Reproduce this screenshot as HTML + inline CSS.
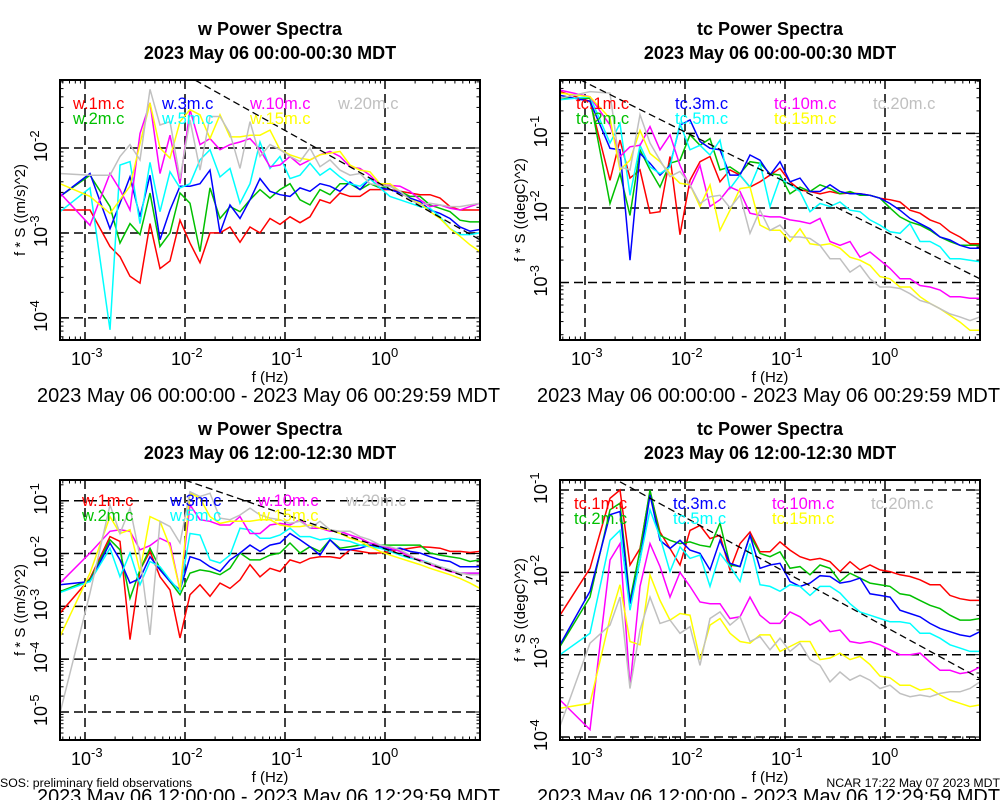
<!DOCTYPE html>
<html><head><meta charset="utf-8"><style>
html,body{margin:0;padding:0;background:#fff;width:1000px;height:800px;overflow:hidden}
svg{display:block;font-family:"Liberation Sans",sans-serif}
</style></head><body>
<svg id="chart" width="1000" height="800" viewBox="0 0 1000 800"></svg>
<script>
// log10 frequency (Hz) for every spectral point
const freqLog = [-3.25,-2.95,-2.75,-2.65,-2.55,-2.45,-2.35,-2.25,-2.15,-2.05,-1.95,-1.85,-1.75,-1.65,-1.55,-1.45,-1.35,-1.25,-1.15,-1.05,-0.95,-0.85,-0.75,-0.65,-0.55,-0.45,-0.35,-0.25,-0.15,-0.05,0.05,0.15,0.25,0.35,0.45,0.55,0.65,0.75,0.85,0.95];
const seriesNames = ["1m","2m","3m","5m","10m","15m","20m"];
// Panel 1: w 00:00-00:30 (log10 f*S)
const w1Red = [-2.73,-2.73,-3.16,-3.28,-3.51,-3.59,-2.89,-3.42,-3.33,-2.85,-3.12,-3.35,-3.0,-3.0,-2.93,-3.11,-2.93,-3.0,-2.83,-2.9,-2.81,-2.88,-2.81,-2.61,-2.65,-2.53,-2.57,-2.57,-2.49,-2.49,-2.49,-2.51,-2.53,-2.55,-2.55,-2.59,-2.69,-2.73,-2.73,-2.73];
const w1Green = [-2.57,-2.32,-2.69,-3.12,-2.89,-3.02,-2.53,-3.16,-3.0,-2.53,-2.65,-3.22,-2.47,-2.83,-2.69,-2.75,-2.61,-2.49,-2.59,-2.49,-2.42,-2.61,-2.67,-2.49,-2.55,-2.42,-2.42,-2.49,-2.42,-2.47,-2.45,-2.51,-2.57,-2.57,-2.67,-2.71,-2.75,-2.85,-2.87,-2.87];
const w1Blue = [-2.57,-2.30,-2.95,-2.65,-2.34,-2.81,-2.32,-3.08,-2.73,-2.45,-2.45,-2.42,-2.26,-3.0,-2.67,-2.83,-2.61,-2.36,-2.51,-2.55,-2.57,-2.47,-2.51,-2.42,-2.45,-2.51,-2.40,-2.49,-2.36,-2.47,-2.49,-2.53,-2.59,-2.63,-2.73,-2.77,-2.83,-2.93,-2.98,-2.96];
const w1Cyan = [-2.75,-2.47,-4.14,-2.2,-2.16,-2.89,-2.17,-2.75,-2.28,-2.47,-2.42,-2.14,-2.02,-2.34,-2.24,-2.65,-2.42,-1.93,-2.24,-2.1,-2.36,-2.32,-2.18,-2.32,-2.24,-2.34,-2.42,-2.45,-2.36,-2.47,-2.57,-2.61,-2.65,-2.69,-2.71,-2.81,-2.95,-3.02,-3.02,-3.0];
const w1Magenta = [-2.53,-2.91,-2.30,-2.49,-2.73,-1.83,-1.47,-2.30,-1.85,-2.42,-1.55,-1.96,-1.89,-2.02,-1.96,-1.93,-1.89,-2.02,-2.22,-2.2,-2.1,-2.2,-2.14,-2.08,-2.04,-2.1,-2.22,-2.24,-2.32,-2.44,-2.44,-2.45,-2.51,-2.61,-2.69,-2.67,-2.71,-2.73,-2.69,-2.65];
const w1Yellow = [-2.42,-2.57,-2.77,-2.61,-2.45,-1.95,-1.47,-2.0,-2.12,-1.69,-1.55,-1.61,-1.89,-1.61,-1.87,-1.87,-1.85,-1.85,-1.79,-2.02,-2.08,-2.12,-2.14,-2.08,-2.06,-2.04,-2.2,-2.26,-2.28,-2.42,-2.42,-2.51,-2.61,-2.65,-2.75,-2.83,-2.95,-3.04,-3.14,-3.22];
const w1Gray = [-2.30,-2.32,-2.32,-2.1,-1.96,-2.14,-1.31,-1.73,-1.69,-2.36,-1.67,-2.26,-1.63,-1.63,-1.83,-2.24,-1.69,-2.1,-1.96,-2.02,-2.1,-2.16,-2.0,-2.22,-2.14,-2.26,-2.32,-2.3,-2.42,-2.44,-2.45,-2.51,-2.61,-2.67,-2.65,-2.67,-2.69,-2.69,-2.67,-2.65];
// Panel 2: tc 00:00-00:30
const t1Red = [-0.44,-0.57,-1.63,-1.09,-1.6,-1.49,-2.07,-2.05,-1.31,-2.36,-1.63,-1.38,-1.31,-1.65,-1.49,-1.56,-1.72,-1.65,-1.56,-1.47,-1.65,-1.76,-1.78,-1.81,-1.78,-1.81,-1.8,-1.81,-1.83,-1.87,-1.89,-1.92,-2.03,-2.07,-2.16,-2.21,-2.32,-2.39,-2.48,-2.48];
const t1Green = [-0.53,-0.53,-1.94,-1.54,-2.1,-1.22,-1.49,-1.72,-1.4,-1.36,-1.02,-1.16,-1.07,-1.49,-1.45,-1.54,-1.38,-1.4,-1.54,-1.56,-1.81,-1.72,-1.78,-1.69,-1.74,-1.81,-1.78,-1.83,-1.83,-1.87,-2.0,-2.12,-2.19,-2.23,-2.3,-2.39,-2.45,-2.5,-2.5,-2.5];
const t1Blue = [-0.49,-0.57,-1.2,-1.22,-2.7,-1.27,-1.4,-1.56,-1.43,-0.89,-0.82,-1.11,-1.2,-1.22,-1.56,-1.56,-1.29,-1.36,-1.56,-1.38,-1.65,-1.6,-1.78,-1.78,-1.69,-1.78,-1.81,-1.81,-1.83,-1.87,-1.94,-2.03,-2.14,-2.21,-2.28,-2.39,-2.43,-2.5,-2.54,-2.54];
const t1Cyan = [-0.55,-0.51,-1.13,-0.87,-1.83,-1.16,-1.45,-1.54,-1.45,-0.87,-1.22,-1.16,-1.29,-1.09,-1.74,-1.56,-1.72,-1.4,-1.98,-1.6,-1.69,-1.78,-2.05,-1.94,-1.98,-1.92,-2.03,-2.05,-2.16,-2.23,-2.32,-2.34,-2.21,-2.45,-2.45,-2.52,-2.68,-2.68,-2.70,-2.72];
const t1Magenta = [-0.42,-0.51,-0.89,-1.31,-1.18,-1.16,-0.91,-1.22,-1.02,-1.43,-1.72,-1.43,-1.98,-1.89,-1.72,-1.78,-2.07,-2.1,-2.12,-2.12,-2.16,-2.18,-2.21,-2.14,-2.45,-2.5,-2.45,-2.66,-2.59,-2.7,-2.81,-2.95,-2.95,-3.04,-3.06,-3.1,-3.19,-3.19,-3.21,-3.21];
const t1Yellow = [-0.46,-0.51,-0.8,-1.49,-1.36,-0.96,-1.27,-1.38,-1.54,-1.67,-1.69,-1.98,-1.69,-2.3,-2.03,-1.74,-1.72,-2.23,-2.3,-2.3,-2.45,-2.28,-2.48,-2.5,-2.48,-2.54,-2.66,-2.7,-2.77,-2.92,-2.95,-3.06,-3.06,-3.19,-3.28,-3.35,-3.44,-3.53,-3.64,-3.64];
const t1Gray = [-0.53,-0.44,-0.46,-1.45,-1.49,-0.75,-1.13,-1.36,-1.58,-1.51,-1.69,-1.94,-1.85,-1.83,-2.0,-1.83,-2.34,-2.03,-2.3,-2.23,-2.39,-2.39,-2.41,-2.5,-2.68,-2.68,-2.86,-2.77,-2.95,-3.06,-3.06,-3.08,-3.15,-3.24,-3.28,-3.35,-3.42,-3.46,-3.51,-3.46];
// Panel 3: w 12:00-12:30
const w2Red = [-3.13,-2.47,-1.68,-1.77,-3.63,-2.31,-1.96,-2.44,-2.69,-3.6,-2.78,-2.59,-2.81,-2.56,-2.66,-2.5,-2.21,-2.44,-2.28,-2.34,-2.12,-2.18,-2.09,-2.06,-2.06,-2.09,-1.93,-1.96,-1.99,-1.99,-1.96,-1.93,-1.9,-1.87,-1.88,-1.9,-1.96,-1.96,-1.98,-1.96];
const w2Green = [-2.72,-2.5,-1.74,-1.93,-2.85,-2.31,-1.9,-2.28,-2.53,-2.78,-2.37,-2.31,-2.34,-2.4,-2.28,-1.99,-2.12,-2.12,-2.03,-1.99,-1.8,-1.99,-1.87,-1.96,-1.74,-1.9,-1.87,-1.84,-1.84,-1.84,-1.84,-1.84,-1.84,-1.84,-1.99,-2.03,-2.06,-2.09,-2.15,-2.12];
const w2Blue = [-2.59,-2.53,-1.8,-2.12,-2.56,-2.47,-2.06,-2.31,-2.53,-2.69,-2.06,-2.12,-2.25,-2.34,-2.12,-1.99,-1.84,-1.96,-1.84,-1.8,-1.62,-1.74,-1.87,-2.03,-1.74,-1.93,-1.93,-1.9,-1.84,-1.87,-1.93,-1.9,-1.96,-1.99,-2.06,-2.12,-2.15,-2.25,-2.25,-2.25];
const w2Cyan = [-2.74,-2.53,-1.9,-2.44,-1.99,-2.59,-2.15,-2.25,-2.5,-2.72,-1.62,-1.65,-2.12,-2.18,-2.03,-1.52,-1.55,-1.71,-1.71,-1.65,-1.52,-1.68,-1.68,-1.74,-1.71,-1.74,-1.77,-1.84,-1.87,-1.9,-1.96,-2.03,-2.09,-2.12,-2.18,-2.25,-2.31,-2.37,-2.37,-2.37];
const w2Magenta = [-2.56,-1.99,-1.58,-1.55,-1.58,-1.93,-1.85,-1.71,-1.8,-2.69,-1.08,-1.36,-1.39,-1.46,-1.46,-1.3,-1.62,-1.62,-1.46,-1.43,-1.46,-1.36,-1.52,-1.52,-1.58,-1.58,-1.65,-1.71,-1.8,-1.84,-1.9,-1.96,-2.06,-2.12,-2.21,-2.28,-2.34,-2.37,-2.37,-2.37];
const w2Yellow = [-3.57,-2.37,-1.3,-1.62,-1.55,-2.34,-1.3,-1.39,-1.87,-2.69,-0.86,-0.95,-1.3,-1.43,-1.39,-1.39,-1.39,-1.36,-1.36,-1.46,-1.49,-1.49,-1.46,-1.52,-1.55,-1.62,-1.71,-1.77,-1.87,-1.96,-2.03,-2.09,-2.15,-2.21,-2.28,-2.34,-2.4,-2.47,-2.56,-2.66];
const w2Gray = [-5.02,-2.75,-1.08,-1.62,-1.14,-2.06,-3.54,-1.39,-1.49,-1.8,-0.83,-0.92,-0.86,-1.33,-1.36,-1.27,-1.14,-1.27,-1.33,-1.36,-1.43,-1.39,-1.52,-1.39,-1.55,-1.58,-1.58,-1.68,-1.74,-1.84,-1.87,-1.93,-2.03,-2.15,-2.18,-2.25,-2.31,-2.37,-2.4,-2.4];
// Panel 4: tc 12:00-12:30
const t2Red = [-2.52,-1.95,-1.1,-1.0,-1.91,-1.71,-1.02,-1.51,-1.71,-1.91,-1.49,-1.43,-1.59,-1.55,-1.97,-1.65,-1.51,-1.75,-1.75,-1.63,-1.73,-1.81,-1.85,-1.83,-1.87,-1.99,-1.87,-1.97,-1.91,-1.97,-1.99,-2.03,-2.05,-2.09,-2.15,-2.15,-2.28,-2.32,-2.34,-2.34];
const t2Green = [-2.9,-2.3,-1.24,-1.16,-2.34,-1.73,-1.0,-1.55,-1.61,-1.65,-1.63,-1.67,-1.69,-1.4,-1.91,-1.93,-1.55,-1.77,-1.81,-1.75,-1.95,-1.93,-2.03,-1.91,-1.95,-2.11,-2.01,-2.07,-2.13,-2.15,-2.17,-2.26,-2.28,-2.34,-2.40,-2.44,-2.52,-2.58,-2.58,-2.56];
const t2Blue = [-2.88,-2.23,-1.3,-1.26,-2.38,-1.85,-1.06,-1.61,-1.71,-1.61,-1.73,-1.77,-1.97,-1.61,-1.89,-1.93,-1.55,-1.95,-1.91,-1.89,-2.11,-2.17,-2.13,-2.04,-2.05,-2.13,-2.11,-2.07,-2.26,-2.28,-2.3,-2.46,-2.5,-2.54,-2.62,-2.68,-2.72,-2.76,-2.78,-2.72];
const t2Cyan = [-3.0,-2.74,-1.61,-1.49,-2.46,-1.85,-1.24,-1.57,-1.99,-1.69,-1.83,-1.79,-2.17,-1.77,-1.93,-2.11,-1.65,-2.15,-2.17,-2.23,-2.15,-2.17,-2.28,-2.17,-2.17,-2.25,-2.38,-2.48,-2.52,-2.56,-2.6,-2.6,-2.62,-2.74,-2.74,-2.8,-2.88,-2.92,-2.96,-2.96];
const t2Magenta = [-3.55,-3.91,-1.85,-1.65,-3.39,-2.17,-1.65,-1.93,-2.3,-2.0,-2.17,-2.36,-2.38,-2.38,-2.56,-2.54,-2.3,-2.52,-2.62,-2.62,-2.48,-2.54,-2.64,-2.58,-2.72,-2.7,-2.84,-2.86,-2.84,-2.88,-2.94,-3.0,-3.0,-2.98,-3.09,-3.19,-3.19,-3.23,-3.21,-3.15];
const t2Yellow = [-3.65,-3.59,-2.56,-2.15,-2.84,-2.88,-2.03,-2.34,-2.58,-2.5,-2.52,-3.06,-2.64,-2.56,-2.74,-2.84,-2.86,-2.76,-2.76,-2.96,-2.9,-2.84,-2.84,-3.06,-3.04,-2.98,-3.06,-3.02,-3.12,-3.26,-3.28,-3.37,-3.37,-3.43,-3.41,-3.49,-3.55,-3.59,-3.63,-3.61];
const t2Gray = [-3.87,-2.86,-2.64,-2.3,-3.41,-2.7,-2.3,-2.62,-2.58,-2.74,-2.66,-3.13,-2.56,-2.48,-2.64,-2.54,-2.84,-2.78,-2.94,-2.8,-2.96,-2.86,-3.06,-3.13,-3.33,-3.21,-3.31,-3.25,-3.31,-3.41,-3.37,-3.47,-3.51,-3.49,-3.51,-3.47,-3.45,-3.45,-3.41,-3.33];
// reference slope lines [x0,x1] and [y0,y1] in log10 units
const refW1X = [-1.9,0.95], refW1Y = [-1.2,-3.08];
const refT1X = [-3.05,0.95], refT1Y = [-0.28,-2.95];
const refW2X = [-2.0,0.95], refW2Y = [-0.61,-2.53];
const refT2X = [-2.65,0.95], refT2Y = [-0.9,-3.29];

const colors = ["#ff0000","#00c000","#0000ff","#00ffff","#ff00ff","#ffff00","#c0c0c0"];
const NS = "http://www.w3.org/2000/svg";
const svg = document.getElementById("chart");
function mk(tag, attrs, parent){const e=document.createElementNS(NS,tag);for(const k in attrs)e.setAttribute(k,attrs[k]);(parent||svg).appendChild(e);return e;}

const panels = [
 {id:"w-early",var:"w",title:"w Power Spectra",sub:"2023 May 06 00:00-00:30 MDT",range:"2023 May 06 00:00:00 - 2023 May 06 00:29:59 MDT",ylab:"f * S ((m/s)^2)",x0:60,y0:80,yMin:-4.26,yMax:-1.2,yDec:[-4,-3,-2],data:[w1Red,w1Green,w1Blue,w1Cyan,w1Magenta,w1Yellow,w1Gray],refX:refW1X,refY:refW1Y,legY:109,legX:[73,162,250,338],cx:270,fy:382,dy:402,tky:365},
 {id:"tc-early",var:"tc",title:"tc Power Spectra",sub:"2023 May 06 00:00-00:30 MDT",range:"2023 May 06 00:00:00 - 2023 May 06 00:29:59 MDT",ylab:"f * S ((degC)^2)",x0:560,y0:80,yMin:-3.77,yMax:-0.285,yDec:[-3,-2,-1],data:[t1Red,t1Green,t1Blue,t1Cyan,t1Magenta,t1Yellow,t1Gray],refX:refT1X,refY:refT1Y,legY:109,legX:[576,675,774,873],cx:770,fy:382,dy:402,tky:365},
 {id:"w-noon",var:"w",title:"w Power Spectra",sub:"2023 May 06 12:00-12:30 MDT",range:"2023 May 06 12:00:00 - 2023 May 06 12:29:59 MDT",ylab:"f * S ((m/s)^2)",x0:60,y0:480,yMin:-5.53,yMax:-0.608,yDec:[-5,-4,-3,-2,-1],data:[w2Red,w2Green,w2Blue,w2Cyan,w2Magenta,w2Yellow,w2Gray],refX:refW2X,refY:refW2Y,legY:506,legX:[82,170,258,346],cx:270,fy:782,dy:803,tky:765},
 {id:"tc-noon",var:"tc",title:"tc Power Spectra",sub:"2023 May 06 12:00-12:30 MDT",range:"2023 May 06 12:00:00 - 2023 May 06 12:29:59 MDT",ylab:"f * S ((degC)^2)",x0:560,y0:480,yMin:-4.036,yMax:-0.878,yDec:[-4,-3,-2,-1],data:[t2Red,t2Green,t2Blue,t2Cyan,t2Magenta,t2Yellow,t2Gray],refX:refT2X,refY:refT2Y,legY:509,legX:[574,673,772,871],cx:770,fy:782,dy:803,tky:765}
];
const W=420,H=260,XMIN=-3.25,XMAX=0.95;
const legOrder=[[0,2,4,6],[1,3,5]];

panels.forEach(p=>{
 const g=mk("g",{});
 
 
 const sx=v=>p.x0+(v-XMIN)/(XMAX-XMIN)*W;
 const sy=v=>p.y0+(p.yMax-v)/(p.yMax-p.yMin)*H;
 const ty=p.y0-45;
 let t=mk("text",{x:p.cx,y:ty,"text-anchor":"middle","font-size":"18","font-weight":"bold"},g);t.textContent=p.title;
 
 
 t=mk("text",{x:p.cx,y:ty+24,"text-anchor":"middle","font-size":"18","font-weight":"bold"},g);t.textContent=p.sub;
 
 
 const clipId="clip-"+p.id;
 const cp=mk("clipPath",{id:clipId},g);mk("rect",{x:p.x0,y:p.y0,width:W,height:H},cp);
 [-3,-2,-1,0].forEach(d=>{const l=mk("line",{x1:sx(d),x2:sx(d),y1:p.y0,y2:p.y0+H,stroke:"#000","stroke-width":"1.5","stroke-dasharray":"9,5"},g);
  
  });
 p.yDec.forEach(d=>{const l=mk("line",{x1:p.x0,x2:p.x0+W,y1:sy(d),y2:sy(d),stroke:"#000","stroke-width":"1.5","stroke-dasharray":"9,5"},g);
  
  });
 for(let d=-4;d<=0;d++)for(let m=1;m<10;m++){const v=d+Math.log10(m);if(v<XMIN||v>XMAX)continue;const len=m==1?7:3.5;
  mk("line",{x1:sx(v),x2:sx(v),y1:p.y0+H,y2:p.y0+H-len,stroke:"#000","stroke-width":"1"},g);
  mk("line",{x1:sx(v),x2:sx(v),y1:p.y0,y2:p.y0+len,stroke:"#000","stroke-width":"1"},g);}
 for(let d=-6;d<=0;d++)for(let m=1;m<10;m++){const v=d+Math.log10(m);if(v<p.yMin||v>p.yMax)continue;const len=m==1?7:3.5;
  mk("line",{x1:p.x0,x2:p.x0+len,y1:sy(v),y2:sy(v),stroke:"#000","stroke-width":"1"},g);
  mk("line",{x1:p.x0+W,x2:p.x0+W-len,y1:sy(v),y2:sy(v),stroke:"#000","stroke-width":"1"},g);}
 [-3,-2,-1,0].forEach(d=>{const tx=mk("text",{x:sx(d)-14,y:p.tky,"font-size":"18"},g);tx.textContent="10";
  
  
  const s=mk("tspan",{dy:"-8","font-size":"13"},tx);s.textContent=String(d);});
 p.yDec.forEach(d=>{const yy=sy(d);const tx=mk("text",{x:0,y:0,"font-size":"18",transform:`translate(${p.x0-13},${yy+14}) rotate(-90)`},g);tx.textContent="10";
  
  
  const s=mk("tspan",{dy:"-8","font-size":"13"},tx);s.textContent=String(d);});
 t=mk("text",{x:0,y:0,"font-size":"15","text-anchor":"middle",transform:`translate(${p.x0-35},${p.y0+H/2}) rotate(-90)`},g);t.textContent=p.ylab;
 
 
 t=mk("text",{x:p.x0+W/2,y:p.fy,"text-anchor":"middle","font-size":"15"},g);t.textContent="f (Hz)";
 
 
 t=mk("text",{x:p.x0-23,y:p.dy,"font-size":"20","textLength":"463","lengthAdjust":"spacingAndGlyphs"},g);t.textContent=p.range;
 
 
 const sg=mk("g",{"clip-path":`url(#${clipId})`},g);
 p.data.forEach((arr,si)=>{
  const pts=arr.map((v,i)=>sx(freqLog[i]).toFixed(1)+","+sy(v).toFixed(1)).join(" ");
  const pl=mk("polyline",{points:pts,fill:"none",stroke:colors[si],"stroke-width":"1.5","stroke-linejoin":"miter"},sg);
  
  
 });
 const rl=mk("line",{x1:sx(p.refX[0]),y1:sy(p.refY[0]),x2:sx(p.refX[1]),y2:sy(p.refY[1]),stroke:"#000","stroke-width":"1.3","stroke-dasharray":"7,4"},sg);
 
 
 legOrder.forEach((row,ri)=>row.forEach((si,ci)=>{
  const lt=mk("text",{x:p.legX[ci],y:p.legY+ri*15,"font-size":"16.5",fill:colors[si]},g);
  lt.textContent=p.var+"."+seriesNames[si]+".c";
  
  
 }));
 const fr=mk("rect",{x:p.x0,y:p.y0,width:W,height:H,fill:"none",stroke:"#000","stroke-width":"2"},g);
 
 
});
let f=mk("text",{x:0,y:787,"font-size":"12.3"});f.textContent="SOS: preliminary field observations";


f=mk("text",{x:1000,y:787,"font-size":"12.3","text-anchor":"end"});f.textContent="NCAR 17:22 May 07 2023 MDT";


</script>
</body></html>
